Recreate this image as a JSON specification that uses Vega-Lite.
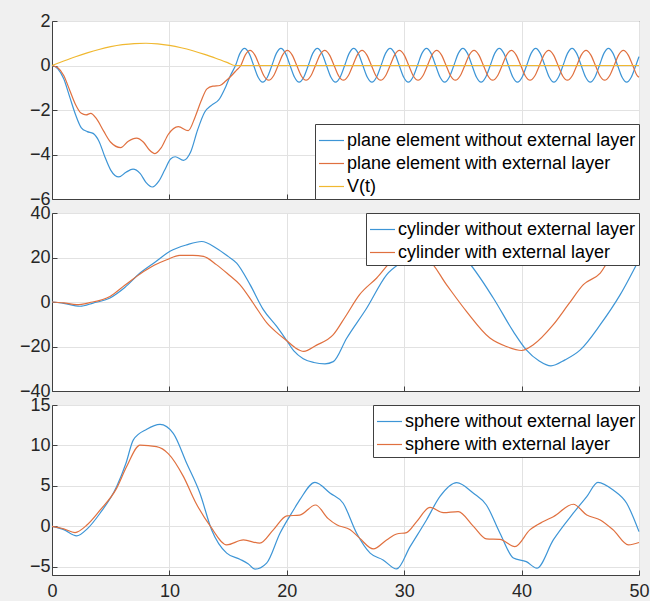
{
  "$schema": "https://vega.github.io/schema/vega-lite/v6.json",
  "background": "#f0f0f0",
  "padding": {"left": 18, "top": 11, "right": 0, "bottom": 0},
  "config": {
    "font": "Liberation Sans",
    "view": {"fill": "white", "stroke": "#404040", "strokeWidth": 1},
    "axis": {"labelFont": "Liberation Sans", "labelFontSize": 18, "labelColor": "#262626", "domainColor": "#404040", "tickColor": "#404040", "gridColor": "#e2e2e2", "title": null, "labelFlush": false, "tickSize": -5, "labelPadding": 7},
    "legend": {"offset": 0, "padding": 3, "fillColor": "white", "strokeColor": "#404040", "symbolType": "stroke", "symbolSize": 625, "symbolStrokeWidth": 1.2, "labelFontSize": 18, "labelFont": "Liberation Sans", "labelColor": "#000000", "labelOffset": 2, "rowPadding": -1, "title": null, "labelLimit": 0},
    "line": {"strokeWidth": 1.2, "interpolate": "monotone"}
  },
  "datasets": {
    "p1": [
      {"s":"a","t":0,"y":0},{"s":"a","t":0.5,"y":-0.15},{"s":"a","t":1,"y":-0.6},{"s":"a","t":1.5,"y":-1.4},{"s":"a","t":2,"y":-2.2},{"s":"a","t":2.5,"y":-2.8},{"s":"a","t":3,"y":-2.97},{"s":"a","t":3.5,"y":-3.05},{"s":"a","t":4,"y":-3.4},{"s":"a","t":4.5,"y":-4.1},{"s":"a","t":5,"y":-4.7},{"s":"a","t":5.7,"y":-5.01},{"s":"a","t":6.3,"y":-4.8},{"s":"a","t":6.9,"y":-4.66},{"s":"a","t":7.5,"y":-4.85},{"s":"a","t":8,"y":-5.25},{"s":"a","t":8.55,"y":-5.46},{"s":"a","t":9.1,"y":-5.2},{"s":"a","t":9.6,"y":-4.7},{"s":"a","t":10.1,"y":-4.2},{"s":"a","t":10.5,"y":-4.1},{"s":"a","t":11.2,"y":-4.26},{"s":"a","t":11.8,"y":-3.9},{"s":"a","t":12.4,"y":-2.9},{"s":"a","t":13,"y":-2.1},{"s":"a","t":13.6,"y":-1.78},{"s":"a","t":14.2,"y":-1.55},{"s":"a","t":14.8,"y":-0.95},{"s":"a","t":15.2,"y":-0.45},
      {"s":"a","t":15.63,"y":0},{"s":"a","t":16.01,"y":0.544},{"s":"a","t":16.4,"y":0.77},{"s":"a","t":16.79,"y":0.544},{"s":"a","t":17.18,"y":0},{"s":"a","t":17.56,"y":-0.53},{"s":"a","t":17.95,"y":-0.75},{"s":"a","t":18.34,"y":-0.53},
      {"s":"a","t":18.73,"y":0},{"s":"a","t":19.11,"y":0.544},{"s":"a","t":19.5,"y":0.77},{"s":"a","t":19.89,"y":0.544},{"s":"a","t":20.28,"y":0},{"s":"a","t":20.66,"y":-0.53},{"s":"a","t":21.05,"y":-0.75},{"s":"a","t":21.44,"y":-0.53},
      {"s":"a","t":21.83,"y":0},{"s":"a","t":22.21,"y":0.544},{"s":"a","t":22.6,"y":0.77},{"s":"a","t":22.99,"y":0.544},{"s":"a","t":23.38,"y":0},{"s":"a","t":23.76,"y":-0.53},{"s":"a","t":24.15,"y":-0.75},{"s":"a","t":24.54,"y":-0.53},
      {"s":"a","t":24.93,"y":0},{"s":"a","t":25.31,"y":0.544},{"s":"a","t":25.7,"y":0.77},{"s":"a","t":26.09,"y":0.544},{"s":"a","t":26.48,"y":0},{"s":"a","t":26.86,"y":-0.53},{"s":"a","t":27.25,"y":-0.75},{"s":"a","t":27.64,"y":-0.53},
      {"s":"a","t":28.03,"y":0},{"s":"a","t":28.41,"y":0.544},{"s":"a","t":28.8,"y":0.77},{"s":"a","t":29.19,"y":0.544},{"s":"a","t":29.58,"y":0},{"s":"a","t":29.96,"y":-0.53},{"s":"a","t":30.35,"y":-0.75},{"s":"a","t":30.74,"y":-0.53},
      {"s":"a","t":31.13,"y":0},{"s":"a","t":31.51,"y":0.544},{"s":"a","t":31.9,"y":0.77},{"s":"a","t":32.29,"y":0.544},{"s":"a","t":32.68,"y":0},{"s":"a","t":33.06,"y":-0.53},{"s":"a","t":33.45,"y":-0.75},{"s":"a","t":33.84,"y":-0.53},
      {"s":"a","t":34.23,"y":0},{"s":"a","t":34.61,"y":0.544},{"s":"a","t":35.0,"y":0.77},{"s":"a","t":35.39,"y":0.544},{"s":"a","t":35.78,"y":0},{"s":"a","t":36.16,"y":-0.53},{"s":"a","t":36.55,"y":-0.75},{"s":"a","t":36.94,"y":-0.53},
      {"s":"a","t":37.33,"y":0},{"s":"a","t":37.71,"y":0.544},{"s":"a","t":38.1,"y":0.77},{"s":"a","t":38.49,"y":0.544},{"s":"a","t":38.88,"y":0},{"s":"a","t":39.26,"y":-0.53},{"s":"a","t":39.65,"y":-0.75},{"s":"a","t":40.04,"y":-0.53},
      {"s":"a","t":40.43,"y":0},{"s":"a","t":40.81,"y":0.544},{"s":"a","t":41.2,"y":0.77},{"s":"a","t":41.59,"y":0.544},{"s":"a","t":41.98,"y":0},{"s":"a","t":42.36,"y":-0.53},{"s":"a","t":42.75,"y":-0.75},{"s":"a","t":43.14,"y":-0.53},
      {"s":"a","t":43.53,"y":0},{"s":"a","t":43.91,"y":0.544},{"s":"a","t":44.3,"y":0.77},{"s":"a","t":44.69,"y":0.544},{"s":"a","t":45.08,"y":0},{"s":"a","t":45.46,"y":-0.53},{"s":"a","t":45.85,"y":-0.75},{"s":"a","t":46.24,"y":-0.53},
      {"s":"a","t":46.63,"y":0},{"s":"a","t":47.01,"y":0.544},{"s":"a","t":47.4,"y":0.77},{"s":"a","t":47.79,"y":0.544},{"s":"a","t":48.18,"y":0},{"s":"a","t":48.56,"y":-0.53},{"s":"a","t":48.95,"y":-0.75},{"s":"a","t":49.34,"y":-0.53},
      {"s":"a","t":49.73,"y":0},{"s":"a","t":50,"y":0.4},
      {"s":"b","t":0,"y":0},{"s":"b","t":0.5,"y":-0.1},{"s":"b","t":1,"y":-0.45},{"s":"b","t":1.5,"y":-1.1},{"s":"b","t":2,"y":-1.75},{"s":"b","t":2.5,"y":-2.15},{"s":"b","t":2.9,"y":-2.22},{"s":"b","t":3.3,"y":-2.15},{"s":"b","t":3.8,"y":-2.4},{"s":"b","t":4.4,"y":-2.95},{"s":"b","t":5,"y":-3.45},{"s":"b","t":5.85,"y":-3.69},{"s":"b","t":6.5,"y":-3.4},{"s":"b","t":7.2,"y":-3.26},{"s":"b","t":7.8,"y":-3.45},{"s":"b","t":8.3,"y":-3.8},{"s":"b","t":8.77,"y":-3.96},{"s":"b","t":9.3,"y":-3.7},{"s":"b","t":9.9,"y":-3.1},{"s":"b","t":10.76,"y":-2.75},{"s":"b","t":11.6,"y":-2.93},{"s":"b","t":12.2,"y":-2.3},{"s":"b","t":12.7,"y":-1.6},{"s":"b","t":13.2,"y":-1.05},{"s":"b","t":13.7,"y":-0.93},{"s":"b","t":14.3,"y":-0.9},{"s":"b","t":14.8,"y":-0.7},{"s":"b","t":15.3,"y":-0.45},{"s":"b","t":15.7,"y":-0.22},
      {"s":"b","t":16.08,"y":0},{"s":"b","t":16.47,"y":0.48},{"s":"b","t":16.87,"y":0.68},{"s":"b","t":17.27,"y":0.48},{"s":"b","t":17.67,"y":0},{"s":"b","t":18.06,"y":-0.47},{"s":"b","t":18.46,"y":-0.66},{"s":"b","t":18.86,"y":-0.47},
      {"s":"b","t":19.26,"y":0},{"s":"b","t":19.65,"y":0.48},{"s":"b","t":20.05,"y":0.68},{"s":"b","t":20.45,"y":0.48},{"s":"b","t":20.85,"y":0},{"s":"b","t":21.24,"y":-0.47},{"s":"b","t":21.64,"y":-0.66},{"s":"b","t":22.04,"y":-0.47},
      {"s":"b","t":22.44,"y":0},{"s":"b","t":22.83,"y":0.48},{"s":"b","t":23.23,"y":0.68},{"s":"b","t":23.63,"y":0.48},{"s":"b","t":24.03,"y":0},{"s":"b","t":24.42,"y":-0.47},{"s":"b","t":24.82,"y":-0.66},{"s":"b","t":25.22,"y":-0.47},
      {"s":"b","t":25.62,"y":0},{"s":"b","t":26.01,"y":0.48},{"s":"b","t":26.41,"y":0.68},{"s":"b","t":26.81,"y":0.48},{"s":"b","t":27.21,"y":0},{"s":"b","t":27.6,"y":-0.47},{"s":"b","t":28.0,"y":-0.66},{"s":"b","t":28.4,"y":-0.47},
      {"s":"b","t":28.8,"y":0},{"s":"b","t":29.19,"y":0.48},{"s":"b","t":29.59,"y":0.68},{"s":"b","t":29.99,"y":0.48},{"s":"b","t":30.39,"y":0},{"s":"b","t":30.78,"y":-0.47},{"s":"b","t":31.18,"y":-0.66},{"s":"b","t":31.58,"y":-0.47},
      {"s":"b","t":31.98,"y":0},{"s":"b","t":32.37,"y":0.48},{"s":"b","t":32.77,"y":0.68},{"s":"b","t":33.17,"y":0.48},{"s":"b","t":33.57,"y":0},{"s":"b","t":33.96,"y":-0.47},{"s":"b","t":34.36,"y":-0.66},{"s":"b","t":34.76,"y":-0.47},
      {"s":"b","t":35.16,"y":0},{"s":"b","t":35.55,"y":0.48},{"s":"b","t":35.95,"y":0.68},{"s":"b","t":36.35,"y":0.48},{"s":"b","t":36.75,"y":0},{"s":"b","t":37.14,"y":-0.47},{"s":"b","t":37.54,"y":-0.66},{"s":"b","t":37.94,"y":-0.47},
      {"s":"b","t":38.34,"y":0},{"s":"b","t":38.73,"y":0.48},{"s":"b","t":39.13,"y":0.68},{"s":"b","t":39.53,"y":0.48},{"s":"b","t":39.93,"y":0},{"s":"b","t":40.32,"y":-0.47},{"s":"b","t":40.72,"y":-0.66},{"s":"b","t":41.12,"y":-0.47},
      {"s":"b","t":41.52,"y":0},{"s":"b","t":41.91,"y":0.48},{"s":"b","t":42.31,"y":0.68},{"s":"b","t":42.71,"y":0.48},{"s":"b","t":43.11,"y":0},{"s":"b","t":43.5,"y":-0.47},{"s":"b","t":43.9,"y":-0.66},{"s":"b","t":44.3,"y":-0.47},
      {"s":"b","t":44.7,"y":0},{"s":"b","t":45.09,"y":0.48},{"s":"b","t":45.49,"y":0.68},{"s":"b","t":45.89,"y":0.48},{"s":"b","t":46.29,"y":0},{"s":"b","t":46.68,"y":-0.47},{"s":"b","t":47.08,"y":-0.66},{"s":"b","t":47.48,"y":-0.47},
      {"s":"b","t":47.88,"y":0},{"s":"b","t":48.27,"y":0.48},{"s":"b","t":48.67,"y":0.68},{"s":"b","t":49.07,"y":0.48},{"s":"b","t":49.47,"y":0},{"s":"b","t":49.86,"y":-0.47},{"s":"b","t":50,"y":-0.53},
      {"s":"v","t":0,"y":0},{"s":"v","t":1,"y":0.2},{"s":"v","t":2,"y":0.392},{"s":"v","t":3,"y":0.568},{"s":"v","t":4,"y":0.721},{"s":"v","t":5,"y":0.845},{"s":"v","t":6,"y":0.935},{"s":"v","t":7,"y":0.987},{"s":"v","t":8,"y":0.999},{"s":"v","t":9,"y":0.971},{"s":"v","t":10,"y":0.903},{"s":"v","t":11,"y":0.799},{"s":"v","t":12,"y":0.663},{"s":"v","t":13,"y":0.5},{"s":"v","t":14,"y":0.316},{"s":"v","t":15,"y":0.12},{"s":"v","t":15.6,"y":0},{"s":"v","t":30,"y":0},{"s":"v","t":50,"y":0}
    ],
    "p2": [
      {"s":"a","t":0,"y":0},{"s":"a","t":1,"y":-0.6},{"s":"a","t":2.38,"y":-1.9},{"s":"a","t":3.5,"y":-0.5},{"s":"a","t":4.94,"y":1.8},{"s":"a","t":6.2,"y":6.5},{"s":"a","t":7.5,"y":13},{"s":"a","t":8.8,"y":18},{"s":"a","t":10.05,"y":22.8},{"s":"a","t":11.47,"y":25.7},{"s":"a","t":12.75,"y":27.2},{"s":"a","t":14,"y":24.2},{"s":"a","t":15,"y":20.5},{"s":"a","t":15.73,"y":17.5},{"s":"a","t":16.87,"y":7.8},{"s":"a","t":18,"y":-3.4},{"s":"a","t":19.14,"y":-11},{"s":"a","t":20,"y":-17.4},{"s":"a","t":20.6,"y":-22},{"s":"a","t":21.4,"y":-25.5},{"s":"a","t":22.3,"y":-27.2},{"s":"a","t":23.25,"y":-27.8},{"s":"a","t":23.96,"y":-26.8},{"s":"a","t":25.1,"y":-16.3},{"s":"a","t":26.8,"y":-2.8},{"s":"a","t":28.5,"y":12.2},{"s":"a","t":30.07,"y":19},{"s":"a","t":31.5,"y":25},{"s":"a","t":32.9,"y":27.5},{"s":"a","t":34.3,"y":24},{"s":"a","t":35.3,"y":19},{"s":"a","t":37.6,"y":1.7},{"s":"a","t":39.3,"y":-13.3},{"s":"a","t":40.4,"y":-21.5},{"s":"a","t":41.5,"y":-26.5},{"s":"a","t":42.5,"y":-28.7},{"s":"a","t":43.7,"y":-26},{"s":"a","t":45,"y":-21.5},{"s":"a","t":46.7,"y":-10.2},{"s":"a","t":48.4,"y":3.3},{"s":"a","t":50,"y":19},
      {"s":"b","t":0,"y":0},{"s":"b","t":1,"y":-0.4},{"s":"b","t":2.1,"y":-1.2},{"s":"b","t":3.2,"y":-0.3},{"s":"b","t":4.94,"y":2.5},{"s":"b","t":6.2,"y":7.5},{"s":"b","t":7.5,"y":12.6},{"s":"b","t":8.7,"y":16.5},{"s":"b","t":9.77,"y":19},{"s":"b","t":10.9,"y":21},{"s":"b","t":12,"y":21},{"s":"b","t":12.9,"y":20.5},{"s":"b","t":14,"y":16.8},{"s":"b","t":15,"y":12.5},{"s":"b","t":16,"y":7.8},{"s":"b","t":17.2,"y":-1},{"s":"b","t":18.3,"y":-9.4},{"s":"b","t":19.2,"y":-14},{"s":"b","t":20,"y":-17.4},{"s":"b","t":20.7,"y":-20.5},{"s":"b","t":21.45,"y":-22.2},{"s":"b","t":22.5,"y":-19.5},{"s":"b","t":23.96,"y":-14.7},{"s":"b","t":25,"y":-6.5},{"s":"b","t":26.2,"y":3.3},{"s":"b","t":27.66,"y":10.8},{"s":"b","t":29.07,"y":19},{"s":"b","t":30.5,"y":21.5},{"s":"b","t":32.05,"y":19},{"s":"b","t":33.6,"y":7.8},{"s":"b","t":35.3,"y":-4.2},{"s":"b","t":37.3,"y":-16.2},{"s":"b","t":38.7,"y":-20},{"s":"b","t":40,"y":-21.8},{"s":"b","t":41,"y":-19.2},{"s":"b","t":42.7,"y":-10.2},{"s":"b","t":44,"y":-1},{"s":"b","t":45.26,"y":7.8},{"s":"b","t":46.7,"y":13},{"s":"b","t":47.5,"y":19},{"s":"b","t":48.8,"y":22},{"s":"b","t":50,"y":23}
    ],
    "p3": [
      {"s":"a","t":0,"y":0},{"s":"a","t":1,"y":-0.4},{"s":"a","t":2.1,"y":-1.17},{"s":"a","t":3,"y":-0.3},{"s":"a","t":4.09,"y":1.63},{"s":"a","t":5.5,"y":4.9},{"s":"a","t":6.3,"y":7.8},{"s":"a","t":6.93,"y":10.7},{"s":"a","t":8.07,"y":12},{"s":"a","t":9.2,"y":12.6},{"s":"a","t":10.33,"y":11.5},{"s":"a","t":11.47,"y":7.8},{"s":"a","t":12.6,"y":4.1},{"s":"a","t":13.6,"y":-0.43},{"s":"a","t":14.88,"y":-3.3},{"s":"a","t":16,"y":-4.05},{"s":"a","t":16.7,"y":-4.6},{"s":"a","t":17.3,"y":-5.28},{"s":"a","t":18.28,"y":-4.54},{"s":"a","t":19.42,"y":-0.84},{"s":"a","t":20.56,"y":2},{"s":"a","t":21.1,"y":3.27},{"s":"a","t":22.4,"y":5.45},{"s":"a","t":23.7,"y":4.1},{"s":"a","t":24.8,"y":2.86},{"s":"a","t":25.95,"y":-0.84},{"s":"a","t":27.1,"y":-3.3},{"s":"a","t":28.2,"y":-4.14},{"s":"a","t":29.36,"y":-5.25},{"s":"a","t":30.5,"y":-2.5},{"s":"a","t":31.9,"y":0.8},{"s":"a","t":33.05,"y":3.7},{"s":"a","t":34.47,"y":5.4},{"s":"a","t":35.9,"y":4.1},{"s":"a","t":37,"y":2.65},{"s":"a","t":38.16,"y":-0.84},{"s":"a","t":39.3,"y":-3.9},{"s":"a","t":40.4,"y":-4.35},{"s":"a","t":41.3,"y":-5.16},{"s":"a","t":42.7,"y":-1.67},{"s":"a","t":44.4,"y":1.63},{"s":"a","t":45.55,"y":3.68},{"s":"a","t":46.5,"y":5.45},{"s":"a","t":47.8,"y":4.5},{"s":"a","t":48.95,"y":2.86},{"s":"a","t":50,"y":-0.64},
      {"s":"b","t":0,"y":0},{"s":"b","t":1,"y":-0.3},{"s":"b","t":1.96,"y":-0.76},{"s":"b","t":3,"y":0.2},{"s":"b","t":4.09,"y":2},{"s":"b","t":5.5,"y":4.7},{"s":"b","t":6.36,"y":7.4},{"s":"b","t":7.5,"y":10.05},{"s":"b","t":8.9,"y":9.85},{"s":"b","t":9.9,"y":9},{"s":"b","t":11.2,"y":6.15},{"s":"b","t":12.2,"y":3.06},{"s":"b","t":13.5,"y":0},{"s":"b","t":14.88,"y":-2.28},{"s":"b","t":16.3,"y":-1.67},{"s":"b","t":17.7,"y":-2.07},{"s":"b","t":18.85,"y":-0.43},{"s":"b","t":20,"y":1.3},{"s":"b","t":21.1,"y":1.4},{"s":"b","t":22.45,"y":2.65},{"s":"b","t":23.5,"y":1},{"s":"b","t":24.25,"y":0.2},{"s":"b","t":25.4,"y":-0.4},{"s":"b","t":26.2,"y":-1.45},{"s":"b","t":27.37,"y":-2.78},{"s":"b","t":28.5,"y":-1.67},{"s":"b","t":29.36,"y":-0.93},{"s":"b","t":30.2,"y":-0.76},{"s":"b","t":31.06,"y":0.6},{"s":"b","t":32.2,"y":2.36},{"s":"b","t":33.33,"y":1.7},{"s":"b","t":34.6,"y":1.83},{"s":"b","t":35.9,"y":0},{"s":"b","t":37,"y":-1.54},{"s":"b","t":38.16,"y":-1.6},{"s":"b","t":39.43,"y":-2.5},{"s":"b","t":40.7,"y":-0.43},{"s":"b","t":41.85,"y":0.6},{"s":"b","t":42.7,"y":1.2},{"s":"b","t":44.4,"y":2.74},{"s":"b","t":45.55,"y":1.42},{"s":"b","t":46.7,"y":0.8},{"s":"b","t":47.8,"y":-0.43},{"s":"b","t":49.1,"y":-2.28},{"s":"b","t":50,"y":-1.98}
    ]
  },
  "spacing": 14,
  "bounds": "flush",
  "resolve": {"scale": {"color": "independent"}},
  "vconcat": [
    {
      "width": 587, "height": 178,
      "data": {"name": "p1"},
      "mark": {"type": "line"},
      "encoding": {
        "x": {"field": "t", "type": "quantitative", "scale": {"domain": [0, 50], "nice": false}, "axis": {"values": [0,10,20,30,40,50], "labels": false}},
        "y": {"field": "y", "type": "quantitative", "scale": {"domain": [-6, 2], "nice": false}, "axis": {"values": [-6,-4,-2,0,2]}},
        "color": {"field": "s", "type": "nominal", "sort": ["a","b","v"], "scale": {"domain": ["a","b","v"], "range": ["#3d95d6","#e0703f","#f0b830"]},
          "legend": {"orient": "bottom-right", "labelExpr": "datum.label == 'a' ? 'plane element without external layer' : datum.label == 'b' ? 'plane element with external layer' : 'V(t)'"}}
      }
    },
    {
      "width": 587, "height": 178,
      "data": {"name": "p2"},
      "mark": {"type": "line"},
      "encoding": {
        "x": {"field": "t", "type": "quantitative", "scale": {"domain": [0, 50], "nice": false}, "axis": {"values": [0,10,20,30,40,50], "labels": false}},
        "y": {"field": "y", "type": "quantitative", "scale": {"domain": [-40, 40], "nice": false}, "axis": {"values": [-40,-20,0,20,40]}},
        "color": {"field": "s", "type": "nominal", "sort": ["a","b"], "scale": {"domain": ["a","b"], "range": ["#3d95d6","#e0703f"]},
          "legend": {"orient": "top-right", "labelExpr": "datum.label == 'a' ? 'cylinder without external layer' : 'cylinder with external layer'"}}
      }
    },
    {
      "width": 587, "height": 170,
      "data": {"name": "p3"},
      "mark": {"type": "line"},
      "encoding": {
        "x": {"field": "t", "type": "quantitative", "scale": {"domain": [0, 50], "nice": false}, "axis": {"values": [0,10,20,30,40,50], "labelPadding": 12}},
        "y": {"field": "y", "type": "quantitative", "scale": {"domain": [-6, 15], "nice": false}, "axis": {"values": [-5,0,5,10,15]}},
        "color": {"field": "s", "type": "nominal", "sort": ["a","b"], "scale": {"domain": ["a","b"], "range": ["#3d95d6","#e0703f"]},
          "legend": {"orient": "top-right", "labelExpr": "datum.label == 'a' ? 'sphere without external layer' : 'sphere with external layer'"}}
      }
    }
  ]
}
